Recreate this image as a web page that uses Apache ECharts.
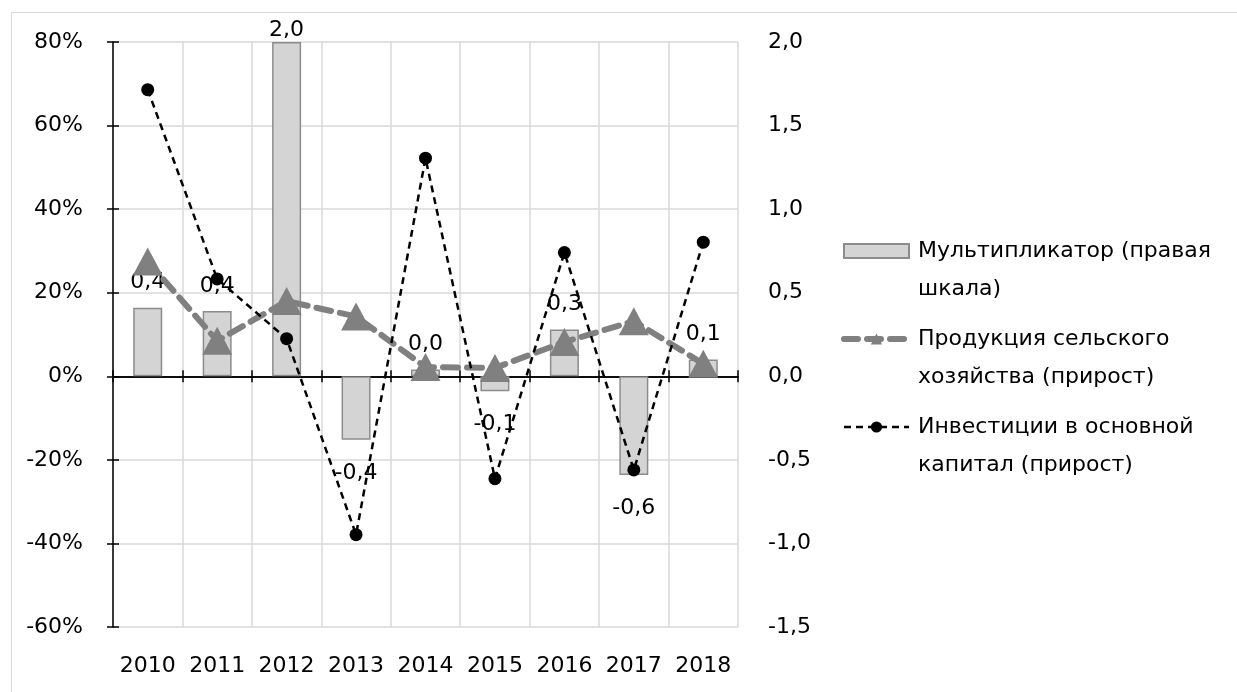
<!DOCTYPE html>
<html>
<head>
<meta charset="utf-8">
<script src="https://cdn.jsdelivr.net/npm/echarts@6/dist/echarts.min.js"></script>
<style>
  html, body { margin: 0; padding: 0; background: #ffffff; }
  #chart { width: 1237px; height: 692px; }
</style>
</head>
<body>
<div id="chart"></div>
<script>
// данные
const years = ['2010', '2011', '2012', '2013', '2014', '2015', '2016', '2017', '2018']
const multiplier = [0.41, 0.39, 2.0, -0.38, 0.04, -0.09, 0.28, -0.59, 0.10]          // правая шкала
const agriGrowth = [27.5, 8.5, 18.0, 14.3, 2.2, 2.0, 8.2, 13.2, 3.0]                  // %
const investGrowth = [68.6, 23.3, 9.0, -37.9, 52.2, -24.5, 29.6, -22.4, 32.1]         // %
const leftTicks = { min: -60, max: 80, interval: 20 }
const rightTicks = { min: -1.5, max: 2.0, interval: 0.5 }

const seriesNames = [
  'Мультипликатор (правая шкала)',
  'Продукция сельского хозяйства (прирост)',
  'Инвестиции в основной капитал (прирост)'
]
const legendText = {
  [seriesNames[0]]: 'Мультипликатор (правая\nшкала)',
  [seriesNames[1]]: 'Продукция сельского\nхозяйства (прирост)',
  [seriesNames[2]]: 'Инвестиции в основной\nкапитал (прирост)'
}

const FONT = 'DejaVu Sans'
const FS = 22
const comma = (v) => v.toFixed(1).replace('.', ',')

const myChart = echarts.init(document.getElementById('chart'))

const barData = multiplier.map(v => ({
  value: v,
  label: {
    position: v < 0 ? 'bottom' : 'top',
    distance: v >= rightTicks.max ? 0 : (v < 0 ? 21 : 13)
  }
}))

const option = {
  animation: false,
  backgroundColor: '#ffffff',
  textStyle: { fontFamily: FONT },
  graphic: [
    {
      type: 'rect', left: 9, top: 10, silent: true, z: -10,
      shape: { width: 1400, height: 900 },
      style: { fill: 'none', stroke: '#d9d9d9', lineWidth: 1 }
    }
  ],
  grid: { left: 113, right: 499, top: 42, bottom: 65 },
  legend: {
    data: [
      { name: seriesNames[0], icon: 'rect' },
      { name: seriesNames[1], lineStyle: { width: 6, type: [14, 9], cap: 'round', color: '#808080' } },
      { name: seriesNames[2], lineStyle: { width: 2.5, type: [7, 5], color: '#000' } }
    ],
    orient: 'vertical',
    left: 841,
    top: 194,
    padding: 0,
    itemWidth: 65,
    itemHeight: 14,
    itemGap: -26,
    // пустая первая строка, чтобы значок стоял против первой строки текста
    formatter: (name) => '\n' + legendText[name],
    textStyle: {
      fontFamily: FONT,
      fontSize: FS,
      color: '#000',
      lineHeight: 38,
      padding: [0, 0, 0, 4]
    }
  },
  xAxis: [
    {
      type: 'category',
      data: years,
      position: 'bottom',
      axisLine: { show: false, onZero: false },
      axisTick: { show: false },
      axisLabel: { interval: 0, margin: 28, fontSize: FS, color: '#000', fontFamily: FONT },
      splitLine: { show: true, interval: 0, lineStyle: { color: '#d9d9d9', width: 1.5 } }
    },
    {
      type: 'category',
      data: years,
      position: 'top',
      axisLine: { show: true, onZero: true, onZeroAxisIndex: 0, lineStyle: { color: '#000', width: 1.5 } },
      axisTick: { show: true, interval: 0, length: 6, lineStyle: { color: '#000', width: 1.5 } },
      axisLabel: { show: false, interval: 0 },
      splitLine: { show: false }
    },
    {
      type: 'category',
      data: years,
      position: 'bottom',
      axisLine: { show: true, onZero: true, onZeroAxisIndex: 0, lineStyle: { color: '#000', width: 1.5 } },
      axisTick: { show: true, interval: 0, length: 6, lineStyle: { color: '#000', width: 1.5 } },
      axisLabel: { show: false, interval: 0 },
      splitLine: { show: false }
    }
  ],
  yAxis: [
    {
      type: 'value',
      position: 'left',
      ...leftTicks,
      axisLine: { show: true, lineStyle: { color: '#000', width: 1.5 } },
      axisTick: { show: true, length: 6, lineStyle: { color: '#000', width: 1.5 } },
      axisLabel: { margin: 30, fontSize: FS, color: '#000', fontFamily: FONT, formatter: (v) => v + '%' },
      splitLine: { show: true, lineStyle: { color: '#d9d9d9', width: 1.5 } }
    },
    {
      type: 'value',
      position: 'right',
      ...rightTicks,
      axisLine: { show: false },
      axisTick: { show: false },
      axisLabel: { margin: 30, align: 'left', fontSize: FS, color: '#000', fontFamily: FONT, formatter: (v) => comma(v) },
      splitLine: { show: false }
    },
    {
      // внутренние засечки левой оси
      type: 'value',
      position: 'left',
      ...leftTicks,
      axisLine: { show: false },
      axisTick: { show: true, inside: true, length: 6, lineStyle: { color: '#000', width: 1.5 } },
      axisLabel: { show: false },
      splitLine: { show: false }
    }
  ],
  series: [
    {
      name: seriesNames[0],
      type: 'bar',
      xAxisIndex: 0,
      yAxisIndex: 1,
      barWidth: 29,
      data: barData,
      itemStyle: { color: '#d4d4d4', borderColor: '#8c8c8c', borderWidth: 1.5 },
      label: {
        show: true,
        fontFamily: FONT,
        fontSize: FS,
        lineHeight: 24,
        color: '#000',
        formatter: (p) => comma(p.value)
      },
      z: 2
    },
    {
      name: seriesNames[1],
      type: 'line',
      xAxisIndex: 0,
      yAxisIndex: 0,
      data: agriGrowth,
      symbol: 'triangle',
      symbolSize: [30, 28],
      itemStyle: { color: '#808080' },
      lineStyle: { color: '#808080', width: 6, type: [15, 9], cap: 'round' },
      z: 3
    },
    {
      name: seriesNames[2],
      type: 'line',
      xAxisIndex: 0,
      yAxisIndex: 0,
      data: investGrowth,
      symbol: 'circle',
      symbolSize: 13,
      itemStyle: { color: '#000' },
      lineStyle: { color: '#000', width: 2.5, type: [7, 5] },
      z: 4
    }
  ]
}

myChart.setOption(option)
window.addEventListener('resize', () => myChart.resize())
</script>
</body>
</html>
